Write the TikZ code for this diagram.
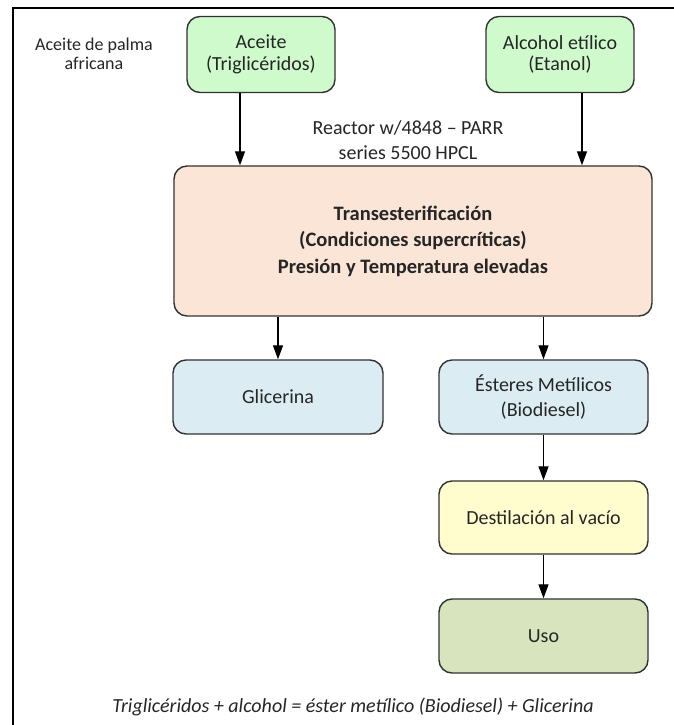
\documentclass[tikz,border=0pt]{standalone}
\usepackage{fontspec}
\setmainfont{Carlito}
\usetikzlibrary{arrows.meta}
\definecolor{boxgreen}{RGB}{206,250,204}
\definecolor{boxpeach}{RGB}{251,229,214}
\definecolor{boxblue}{RGB}{219,236,242}
\definecolor{boxyellow}{RGB}{255,252,206}
\definecolor{boxolive}{RGB}{216,228,190}
\definecolor{edge}{RGB}{50,50,50}
\definecolor{ink}{RGB}{38,38,38}
\tikzset{
  procbox/.style={draw=edge, line width=1.4pt, rounded corners=13pt, align=center,
    text=ink, inner sep=2pt},
  topbox/.style={procbox, fill=boxgreen, minimum width=148pt, minimum height=76pt,
    font=\fontsize{20}{21.5}\selectfont},
  midbox/.style={procbox, minimum width=209pt, minimum height=74pt,
    font=\fontsize{20}{25}\selectfont},
  plain/.style={align=center, text=ink, inner sep=0pt},
  arr/.style={line width=1.3pt, draw=black, -{Triangle[width=10pt,length=14pt]}},
}
\begin{document}
\begin{tikzpicture}[x=1pt,y=-1pt]
\useasboundingbox (0,0) rectangle (674,725);
\fill[white] (0,0) rectangle (674,725);
% frame
\draw[line width=2pt, black] (13,725) -- (13,8) -- (674,8);

\node[plain, font=\fontsize{18}{19}\selectfont] (palma) at (94,54) {Aceite de palma\\africana};

\node[topbox] (aceite) at (261,54.5) {Aceite\\(Triglicéridos)};
\node[topbox] (alcohol) at (560,54.5) {Alcohol etílico\\(Etanol)};

\node[plain, font=\fontsize{20}{25}\selectfont] (reactorlbl) at (408,140) {Reactor w/4848 – PARR\\series 5500 HPCL};

\node[procbox, fill=boxpeach, minimum width=478pt, minimum height=150pt,
  font=\bfseries\fontsize{20.5}{26.5}\selectfont] (reactor) at (413,241)
  {Transesterificación\\(Condiciones supercríticas)\\Presión y Temperatura elevadas};

\node[midbox, fill=boxblue, minimum width=210pt] (glicerina) at (278,397) {Glicerina};
\node[midbox, fill=boxblue] (esteres) at (543.5,397) {Ésteres Metílicos\\(Biodiesel)};
\node[midbox, fill=boxyellow, minimum height=73pt] (destil) at (543.5,517.5) {Destilación al vacío};
\node[midbox, fill=boxolive] (uso) at (543.5,636) {Uso};

\node[plain, font=\itshape\fontsize{20}{24}\selectfont] (formula) at (353,707)
  {Triglicéridos + alcohol = éster metílico (Biodiesel) + Glicerina};

% connectors
\draw[arr] ([xshift=-21pt]aceite.south) -- ([xshift=-21pt]aceite.south |- reactor.north);
\draw[arr] ([xshift=22pt]alcohol.south) -- ([xshift=22pt]alcohol.south |- reactor.north);
\draw[arr] (reactor.south -| glicerina.north) -- (glicerina.north);
\draw[arr] (reactor.south -| esteres.north) -- (esteres.north);
\draw[arr] (esteres.south) -- (destil.north);
\draw[arr] (destil.south) -- (uso.north);
\end{tikzpicture}
\end{document}
